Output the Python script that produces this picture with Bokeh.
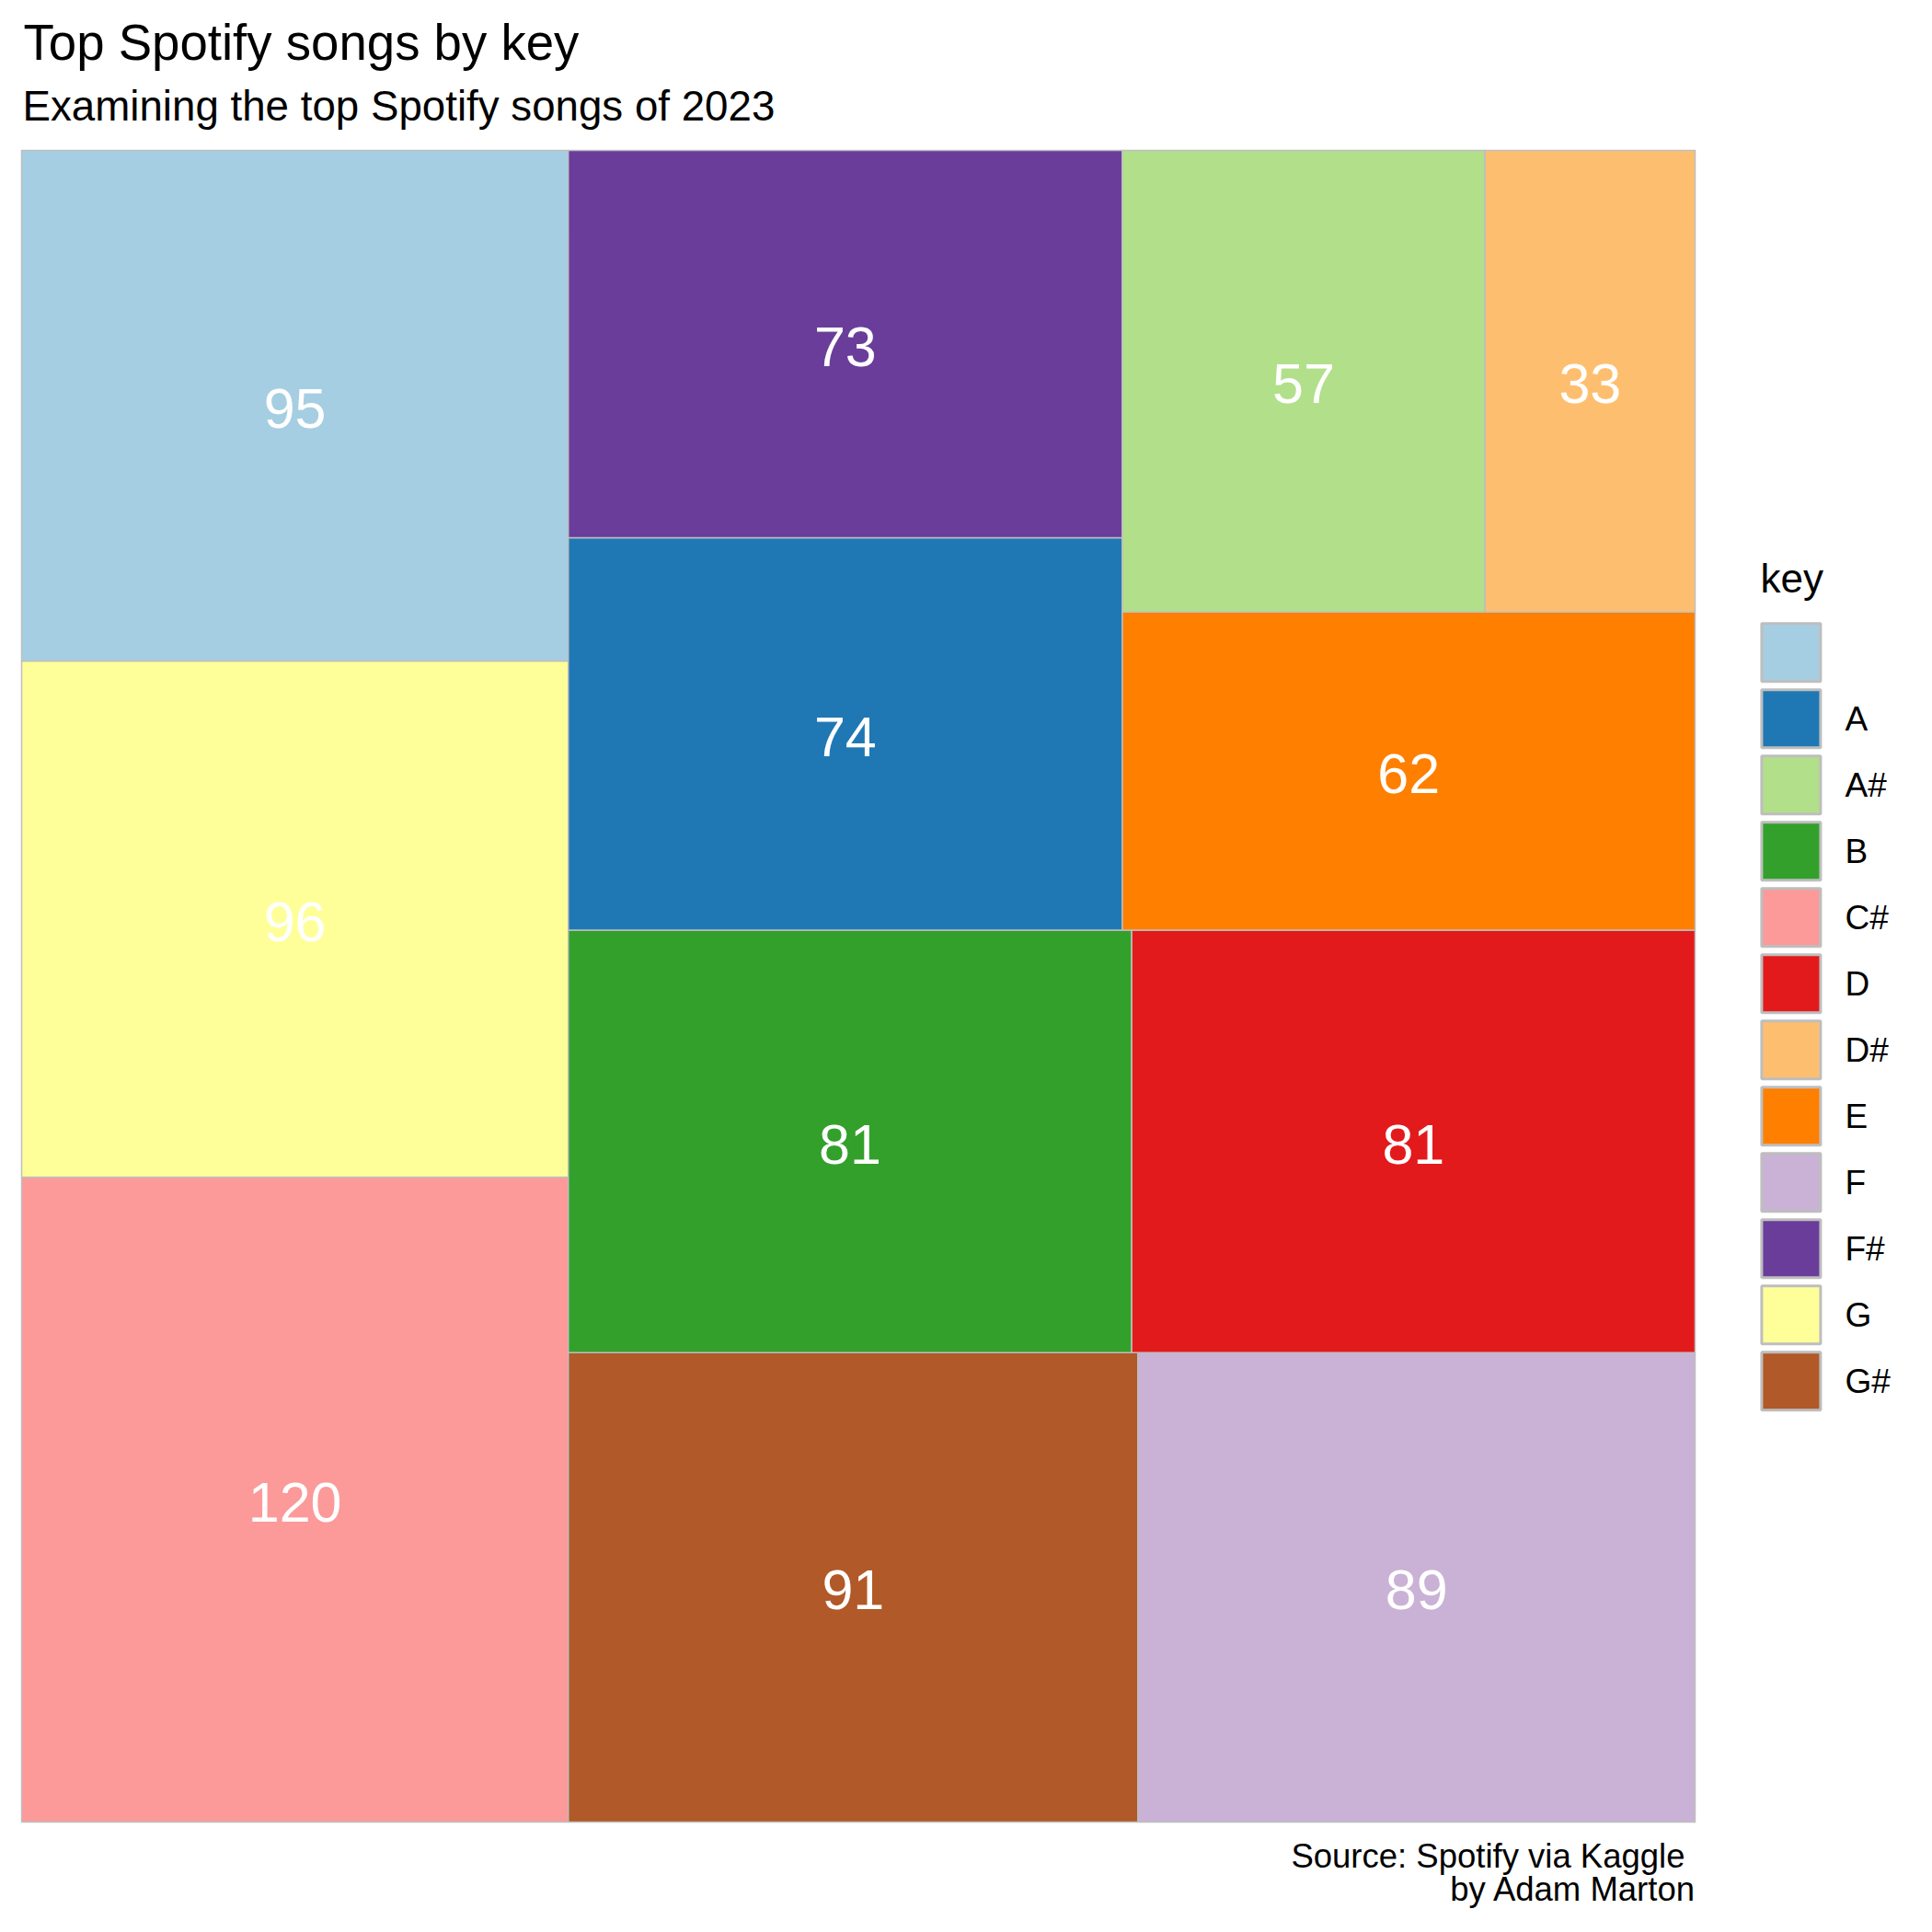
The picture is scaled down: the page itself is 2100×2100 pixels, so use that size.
from bokeh.plotting import figure
from bokeh.models import Range1d, ColumnDataSource
from bokeh.core.properties import value
from bokeh.embed import file_html
from bokeh.resources import INLINE

# ---------------- data ----------------
keys = ["", "A", "A#", "B", "C#", "D", "D#", "E", "F", "F#", "G", "G#"]
counts = [95, 74, 57, 81, 120, 81, 33, 62, 89, 73, 96, 91]
colors = ["#A6CEE3", "#1F78B4", "#B2DF8A", "#33A02C", "#FB9A99", "#E31A1C",
          "#FDBF6F", "#FF7F00", "#CAB2D6", "#6A3D9A", "#FFFF99", "#B15928"]

title_text = "Top Spotify songs by key"
subtitle_text = "Examining the top Spotify songs of 2023"
caption_lines = ["Source: Spotify via Kaggle", "by Adam Marton"]
legend_title = "key"

# ---------------- layout constants (pixels) ----------------
CW, CH = 2100, 2100
PL, PR, PT, PB = 23, 1842, 163, 1980      # panel edges on canvas
W, H = PR - PL, PB - PT
FONT = "Liberation Sans"


def cx(px):   # canvas x -> data x
    return px - PL


def cy(py):   # canvas y -> data y
    return PB - py


# ---------------- squarified treemap ----------------
def worst(row, side):
    s = sum(row)
    return max(max(side * side * r / (s * s), (s * s) / (side * side * r)) for r in row)


def squarify(vals, x, y, w, h):
    total = sum(vals)
    areas = [v * w * h / total for v in vals]
    out = []
    i = 0
    while i < len(areas):
        side = min(w, h)
        row = [areas[i]]
        j = i + 1
        while j < len(areas) and worst(row + [areas[j]], side) <= worst(row, side):
            row.append(areas[j])
            j += 1
        s = sum(row)
        if w >= h:
            cw = s / h
            yy = y
            for a in row:
                hh = a / cw
                out.append((x, x + cw, yy, yy + hh))
                yy += hh
            x += cw
            w -= cw
        else:
            rh = s / w
            xx = x
            for a in row:
                ww = a / rh
                out.append((xx, xx + ww, y, y + rh))
                xx += ww
            y += rh
            h -= rh
        i = j
    return out


order = sorted(range(len(counts)), key=lambda k: -counts[k])
rects = squarify([counts[k] for k in order], 0.0, 0.0, float(W), float(H))

left, right, bottom, top, fill, lab, lx, ly = [], [], [], [], [], [], [], []
LAB_SIZE = 61
for k, (x0, x1, y0, y1) in zip(order, rects):
    left.append(x0); right.append(x1); bottom.append(y0); top.append(y1)
    fill.append(colors[k])
    lab.append(str(counts[k]))
    lx.append((x0 + x1) / 2)
    ly.append((y0 + y1) / 2 - 3)

src = ColumnDataSource(dict(left=left, right=right, bottom=bottom, top=top,
                            fill=fill, lab=lab, lx=lx, ly=ly))

p = figure(width=CW, height=CH, output_backend="svg", toolbar_location=None,
           x_range=Range1d(-PL, CW - PL), y_range=Range1d(-(CH - PB), PB),
           x_axis_type=None, y_axis_type=None, min_border=0)
p.xgrid.visible = False
p.ygrid.visible = False
p.outline_line_color = None
p.background_fill_color = "white"
p.border_fill_color = "white"

p.quad(left="left", right="right", bottom="bottom", top="top", source=src,
       fill_color="fill", line_color="#bebebe", line_width=1.5)
p.text(x="lx", y="ly", text="lab", source=src, text_color="white",
       text_font=value(FONT), text_font_size=f"{LAB_SIZE}px",
       text_align="center", text_baseline="alphabetic")

# ---------------- legend ----------------
L0, LSTEP = 708.7, 72.0
leg_y = [cy(L0 + LSTEP * i) for i in range(len(keys))]
leg_src = ColumnDataSource(dict(x=[cx(1946.4)] * len(keys), y=leg_y, fill=colors,
                                lx=[cx(2005)] * len(keys),
                                ly=[v for v in leg_y], lab=keys))
p.rect(x="x", y="y", width=64, height=63, source=leg_src, fill_color="fill",
       line_color="#bebebe", line_width=3)
p.text(x="lx", y="ly", text="lab", source=leg_src, text_color="black",
       text_font=value(FONT), text_font_size="37px",
       text_align="left", text_baseline="alphabetic")
p.text(x=[cx(1913)], y=[cy(628)], text=[legend_title], text_color="black",
       text_font=value(FONT), text_font_size="44px",
       text_align="left", text_baseline="alphabetic")

# ---------------- titles & caption ----------------
p.text(x=[cx(25)], y=[cy(46)], text=[title_text], text_color="black",
       text_font=value(FONT), text_font_size="54.6px",
       text_align="left", text_baseline="alphabetic")
p.text(x=[cx(24)], y=[cy(115)], text=[subtitle_text], text_color="black",
       text_font=value(FONT), text_font_size="45.7px",
       text_align="left", text_baseline="alphabetic")
p.text(x=[cx(1831), cx(1843.5)], y=[cy(2017), cy(2053)], text=caption_lines,
       text_color="black", text_font=value(FONT), text_font_size="36.5px",
       text_align="right", text_baseline="alphabetic")

open("out.html", "w").write(file_html(p, INLINE))
